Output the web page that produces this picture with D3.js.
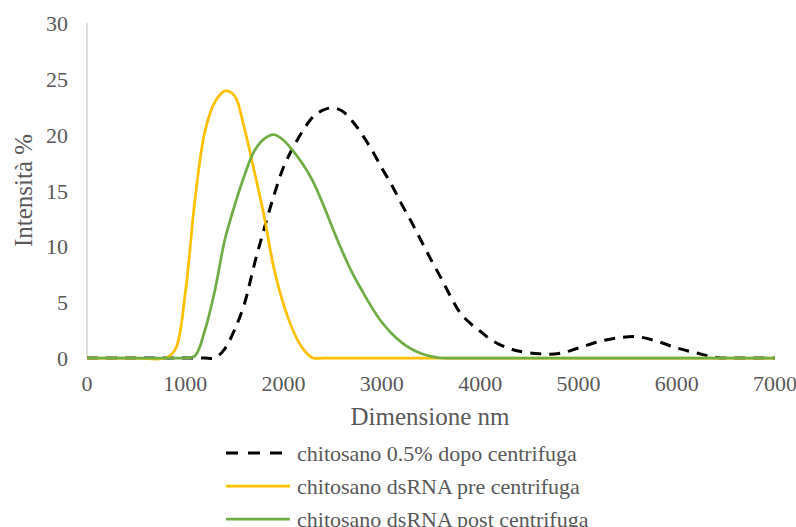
<!DOCTYPE html>
<html>
<head>
<meta charset="utf-8">
<script src="https://cdn.jsdelivr.net/npm/d3@7"></script>
<style>
  body { margin: 0; background: #fff; }
  text { font-family: "Liberation Serif", "Times New Roman", serif; fill: #595959; }
</style>
</head>
<body>
<div id="chart"></div>
<script>
//data (size in nm, intensity %)
var sizes = [0, 500, 800, 900,
  1000, 1100, 1200, 1300, 1400, 1500, 1600, 1700, 1800, 1900,
  2000, 2100, 2200, 2300, 2400, 2500, 2600, 2700, 2800, 2900,
  3000, 3100, 3200, 3300, 3400, 3500, 3600, 3700, 3800, 3900,
  4000, 4100, 4200, 4300, 4400,
  4600, 4800, 5000, 5200, 5400, 5600, 5800, 6000, 6200, 6400, 6600, 7000];

var dopo = [0, 0, 0, 0,
  0, 0, 0, 0, 0.8, 2.5, 4.8, 8.3, 11.5, 14.5,
  17.1, 18.9, 20.4, 21.6, 22.2, 22.4, 22.1, 21.2, 20.0, 18.6,
  17.0, 15.5, 13.8, 12.2, 10.5, 8.8, 7.2, 5.5, 4.0, 3.1,
  2.4, 1.7, 1.2, 0.85, 0.6,
  0.38, 0.4, 0.9, 1.45, 1.8, 1.9, 1.5, 0.9, 0.45, 0.05, 0, 0];

var preCentr = [0, 0, 0, 0.8,
  5.8, 14.3, 20.3, 22.9, 23.9, 23.5, 20.6, 16.8, 12.8, 8.1,
  4.8, 2.4, 0.8, 0, 0, 0, 0, 0, 0, 0,
  0, 0, 0, 0, 0, 0, 0, 0, 0, 0,
  0, 0, 0, 0, 0,
  0, 0, 0, 0, 0, 0, 0, 0, 0, 0, 0, 0];

var postCentr = [0, 0, 0, 0,
  0, 0.2, 2.5, 6.0, 10.5, 13.6, 16.3, 18.5, 19.6, 20.0,
  19.5, 18.5, 17.3, 15.8, 13.8, 11.6, 9.5, 7.6, 6.0, 4.5,
  3.2, 2.2, 1.4, 0.8, 0.4, 0.15, 0, 0, 0, 0,
  0, 0, 0, 0, 0,
  0, 0, 0, 0, 0, 0, 0, 0, 0, 0, 0, 0];

var xTicks = [0, 1000, 2000, 3000, 4000, 5000, 6000, 7000];
var yTicks = [0, 5, 10, 15, 20, 25, 30];

var seriesNames = ['chitosano 0.5% dopo centrifuga', 'chitosano dsRNA pre centrifuga', 'chitosano dsRNA post centrifuga'];
var seriesValues = [dopo, preCentr, postCentr];
var colors = ['#000000', '#FFC000', '#70AD47'];
var dashes = ['11,8', null, null];

//dims
var width = 796, height = 527;
var plotLeft = 87, plotRight = 775, plotTop = 23, plotBottom = 358;

var x = d3.scaleLinear().domain([0, 7000]).range([plotLeft, plotRight]);
var y = d3.scaleLinear().domain([0, 30]).range([plotBottom, plotTop]);

var svg = d3.select('#chart').append('svg')
  .attr('width', width)
  .attr('height', height);

svg.append('defs').append('clipPath').attr('id', 'plot')
  .append('rect')
  .attr('x', plotLeft).attr('y', plotTop - 5)
  .attr('width', plotRight - plotLeft).attr('height', plotBottom - plotTop + 10);

//y axis line
svg.append('line')
  .attr('x1', plotLeft).attr('x2', plotLeft)
  .attr('y1', plotTop).attr('y2', plotBottom)
  .attr('stroke', '#bfbfbf').attr('stroke-width', 1);

//tick labels
svg.selectAll('.ytick').data(yTicks).enter().append('text')
  .attr('x', plotLeft - 19)
  .attr('y', function(d) { return y(d) + 8; })
  .attr('text-anchor', 'end')
  .style('font-size', '22px')
  .text(function(d) { return d; });

svg.selectAll('.xtick').data(xTicks).enter().append('text')
  .attr('x', function(d) { return x(d); })
  .attr('y', plotBottom + 33)
  .attr('text-anchor', 'middle')
  .style('font-size', '22px')
  .text(function(d) { return d; });

//axis titles
svg.append('text')
  .attr('x', 430).attr('y', 425)
  .attr('text-anchor', 'middle')
  .style('font-size', '25px')
  .text('Dimensione nm');

svg.append('text')
  .attr('transform', 'translate(32,' + ((plotTop + plotBottom) / 2) + ') rotate(-90)')
  .attr('text-anchor', 'middle')
  .style('font-size', '25px')
  .text('Intensità %');

//lines
var line = d3.line()
  .x(function(d) { return x(d[0]); })
  .y(function(d) { return y(d[1]); })
  .curve(d3.curveCatmullRom.alpha(0.5));

var g = svg.append('g').attr('clip-path', 'url(#plot)');

seriesValues.forEach(function(vals, i) {
  g.append('path')
    .datum(sizes.map(function(s, j) { return [s, vals[j]]; }))
    .attr('d', line)
    .attr('fill', 'none')
    .attr('stroke', colors[i])
    .attr('stroke-width', i === 0 ? 3 : 2.75)
    .attr('stroke-dasharray', dashes[i])
    .attr('stroke-linejoin', 'round');
});

//legend
var legend = svg.selectAll('.legend').data(seriesNames).enter().append('g')
  .attr('transform', function(d, i) { return 'translate(226,' + (453 + i * 33) + ')'; });

legend.append('line')
  .attr('x1', 0).attr('x2', 64)
  .attr('y1', 0).attr('y2', 0)
  .attr('stroke', function(d, i) { return colors[i]; })
  .attr('stroke-width', function(d, i) { return i === 0 ? 3 : 2.75; })
  .attr('stroke-dasharray', function(d, i) { return dashes[i] ? '12,10' : null; });

legend.append('text')
  .attr('x', 71).attr('y', 8)
  .style('font-size', '22px')
  .text(function(d) { return d; });
</script>
</body>
</html>
